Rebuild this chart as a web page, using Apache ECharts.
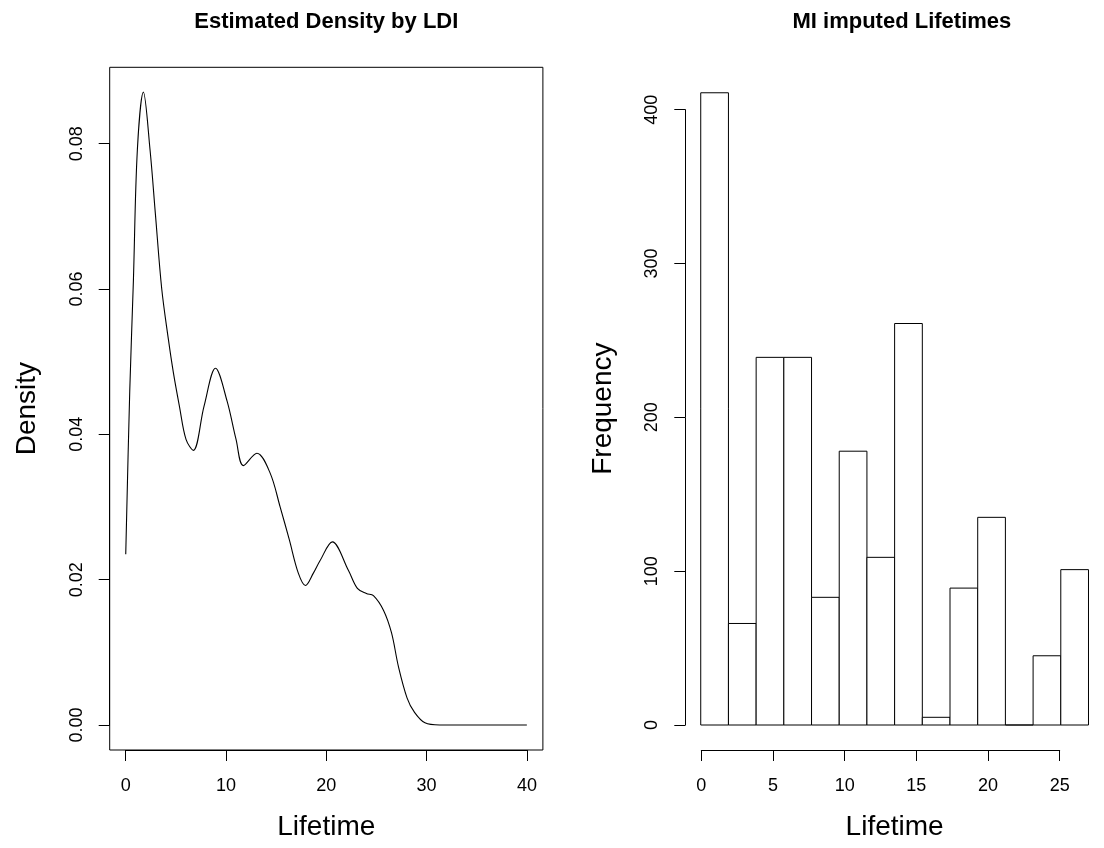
<!DOCTYPE html>
<html>
<head>
<meta charset="utf-8">
<title>Estimated Density by LDI / MI imputed Lifetimes</title>
<script src="https://cdn.jsdelivr.net/npm/echarts@6/dist/echarts.min.js"></script>
<style>
  html, body { margin: 0; padding: 0; background: #fff; }
  #chart { width: 1104px; height: 848px; }
</style>
</head>
<body>
<div id="chart"></div>
<script>
// Estimated density curve (Lifetime vs Density)
const densityX = [0, 0.4, 0.76, 1.16, 1.76, 2.42, 2.97, 3.59, 4.25, 4.75, 5.35, 6.01, 6.74, 7.81, 8.95,
  10.1, 11.0, 11.73, 13.08, 14.39, 15.38, 16.31, 17.21, 17.92, 18.71, 19.37, 20.6, 22.2, 23.1, 24.0,
  24.7, 25.7, 26.5, 27.2, 28.06, 28.77, 29.84, 31.3, 40];
const densityY = [0.0235, 0.046, 0.061, 0.0792, 0.0871, 0.0792, 0.0701, 0.0600, 0.0531, 0.0485, 0.0439,
  0.0393, 0.0378, 0.0439, 0.0491, 0.0446, 0.0393, 0.0357, 0.0374, 0.0347, 0.0301, 0.0255, 0.0209, 0.0192,
  0.0209, 0.0226, 0.0252, 0.0213, 0.0188, 0.0181, 0.0178, 0.0158, 0.0127, 0.0080, 0.0037, 0.0018, 0.0003,
  0, 0];

// Histogram of imputed lifetimes
const binEdges = [0, 2, 4, 6, 8, 10, 12, 14, 16, 18, 20, 22, 24, 26, 28];
const counts = [411, 66, 239, 239, 83, 178, 109, 261, 5, 89, 135, 0, 45, 101];

// Tick labels
const densityXTicks = [0, 10, 20, 30, 40];
const densityYTicks = [0, 0.02, 0.04, 0.06, 0.08];
const histXTicks = [0, 5, 10, 15, 20, 25];
const histYTicks = [0, 100, 200, 300, 400];

const FONT = '"Liberation Sans", Arial, Helvetica, sans-serif';
const BLACK = '#000';

const chart = echarts.init(document.getElementById('chart'), null, { renderer: 'canvas' });

const hidden = {
  axisLine: { show: false, onZero: false }, axisTick: { show: false },
  axisLabel: { show: false }, splitLine: { show: false }
};
const nameStyle = { fontSize: 28, color: BLACK, fontFamily: FONT };

// An axis that spans only its tick range, pushed outward from the data to the plot edge
function tickAxis(gridIndex, ticks, offset, isY, fmt) {
  const ax = {
    type: 'value', gridIndex: gridIndex,
    min: ticks[0], max: ticks[ticks.length - 1], interval: ticks[1] - ticks[0],
    offset: offset,
    axisLine: { show: true, onZero: false, lineStyle: { color: BLACK, width: 1 } },
    axisTick: { show: true, inside: false, length: 11, lineStyle: { color: BLACK, width: 1 } },
    axisLabel: {
      show: true, color: BLACK, fontSize: 18, fontFamily: FONT,
      margin: isY ? 24 : 27,
      formatter: fmt || (v => String(v))
    },
    splitLine: { show: false }
  };
  if (isY) ax.axisLabel.rotate = 90;
  return ax;
}

const histData = counts.map((c, i) => [binEdges[i], binEdges[i + 1], c]);

const option = {
  backgroundColor: '#fff',
  animation: false,
  title: [
    { text: 'Estimated Density by LDI', left: 326.3, top: 11, textAlign: 'center', padding: 0,
      textStyle: { fontSize: 22, fontWeight: 'bold', color: BLACK, fontFamily: FONT } },
    { text: 'MI imputed Lifetimes', left: 901.9, top: 11, textAlign: 'center', padding: 0,
      textStyle: { fontSize: 22, fontWeight: 'bold', color: BLACK, fontFamily: FONT } }
  ],
  grid: [
    // left plot region (boxed)
    { left: 109.7, right: 561.1, top: 67.3, bottom: 98, show: true,
      borderColor: BLACK, borderWidth: 1, backgroundColor: 'transparent', containLabel: false },
    // left axes span
    { left: 125.7, right: 577.1, top: 143.7, bottom: 123, containLabel: false },
    // right plot region
    { left: 685.24, right: -14.6, top: 67.3, bottom: 98, containLabel: false },
    // right axes span
    { left: 701.3, right: 44.3, top: 109.7, bottom: 123, containLabel: false }
  ],
  xAxis: [
    Object.assign({ type: 'value', gridIndex: 0, min: -1.6, max: 41.6, name: 'Lifetime',
      nameLocation: 'middle', nameGap: 63, nameTextStyle: nameStyle }, hidden),
    tickAxis(1, densityXTicks, 25, false),
    Object.assign({ type: 'value', gridIndex: 2, min: -1.12, max: 29.12, name: 'Lifetime',
      nameLocation: 'middle', nameGap: 63, nameTextStyle: nameStyle }, hidden),
    tickAxis(3, histXTicks, 25, false)
  ],
  yAxis: [
    Object.assign({ type: 'value', gridIndex: 0, min: -0.00344, max: 0.09052, name: 'Density',
      nameLocation: 'middle', nameGap: 68, nameTextStyle: nameStyle }, hidden),
    tickAxis(1, densityYTicks, 16, true, v => v.toFixed(2)),
    Object.assign({ type: 'value', gridIndex: 2, min: -16.25, max: 427.56, name: 'Frequency',
      nameLocation: 'middle', nameGap: 68, nameTextStyle: nameStyle }, hidden),
    tickAxis(3, histYTicks, 16, true)
  ],
  series: [
    {
      type: 'line', xAxisIndex: 0, yAxisIndex: 0,
      data: densityX.map((x, i) => [x, densityY[i]]),
      smooth: 0.35, showSymbol: false, symbol: 'none',
      lineStyle: { color: BLACK, width: 1.1 },
      clip: true
    },
    {
      type: 'custom', xAxisIndex: 2, yAxisIndex: 2,
      data: histData,
      encode: { x: [0, 1], y: 2 },
      renderItem: function (params, api) {
        const top = api.coord([api.value(0), api.value(2)]);
        const base = api.coord([api.value(1), 0]);
        return {
          type: 'rect',
          shape: { x: top[0], y: top[1], width: base[0] - top[0], height: base[1] - top[1] },
          style: { fill: '#fff', stroke: BLACK, lineWidth: 1 }
        };
      }
    }
  ]
};

chart.setOption(option);
</script>
</body>
</html>
